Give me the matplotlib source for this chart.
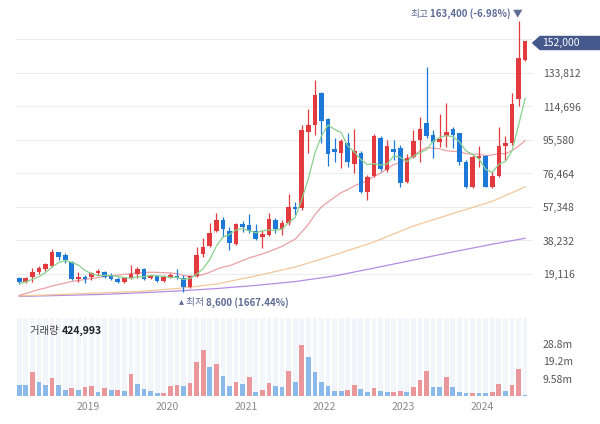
import matplotlib.pyplot as plt
from matplotlib.patches import Polygon
import pandas as pd
import numpy as np

plt.rcParams['font.family'] = ['Noto Sans CJK KR', 'DejaVu Sans']

# monthly candles, Feb 2018 .. Jul 2024
months = pd.period_range('2018-02', periods=78, freq='M')

opens = [16700, 14700, 17400, 20100, 21800, 23700, 31500, 30000, 26100, 16100,
         17600, 17600, 19500, 20400, 18500, 16300, 14400, 16700, 19100, 21800,
         16700, 18100, 15100, 17200, 18000, 17000, 11900, 18000, 30400, 35100,
         43800, 49900, 43800, 36100, 47700, 47100, 43800, 40400, 41200, 49900,
         44800, 48100, 57500, 57000, 100300, 104100, 122400, 107400, 90300, 88300,
         94000, 81700, 88300, 65700, 75300, 96900, 78500, 90300, 91200, 71400,
         86100, 95600, 105100, 98400, 94600, 97900, 101700, 99400, 83200, 68900,
         85100, 86500, 68900, 75200, 92200, 93700, 118800, 141200]
highs = [17600, 17600, 22500, 23700, 25600, 33400, 31800, 30900, 26500, 20400,
         18500, 20400, 22000, 20800, 19500, 17200, 17400, 24300, 22900, 22400,
         18500, 18500, 18500, 19500, 22000, 18500, 18500, 34700, 39800, 48200,
         54100, 51600, 46100, 48200, 49600, 53400, 47500, 44300, 54100, 50900,
         49900, 64600, 60300, 104100, 113000, 129800, 123100, 108100, 96600, 95900,
         99400, 101700, 89500, 75600, 99000, 97900, 95600, 95600, 92700, 87400,
         101300, 108500, 137400, 101300, 110400, 116900, 103200, 99700, 84200, 87000,
         92300, 87000, 78100, 102800, 97900, 122200, 163400, 152200]
lows = [13400, 14200, 14700, 18900, 20800, 23300, 27100, 25200, 15700, 14700,
        13800, 15700, 18500, 16700, 15700, 13800, 14000, 16300, 16700, 15700,
        16100, 14700, 14700, 16700, 16100, 8600, 11100, 17400, 29000, 34500,
        43300, 40400, 32800, 35700, 43300, 42300, 38500, 33800, 40600, 42300,
        41200, 47100, 53000, 55600, 88000, 98400, 93700, 80700, 83200, 79400,
        80000, 76600, 65200, 61300, 74600, 77900, 77500, 84200, 68900, 70900,
        85100, 83200, 96600, 85100, 91800, 91400, 90800, 81300, 68000, 68000,
        80300, 68600, 68000, 74600, 84200, 92700, 115000, 140700]
closes = [14700, 17000, 20400, 22400, 24700, 31500, 29000, 27100, 16100, 17600,
          16100, 19900, 20800, 17600, 16100, 14400, 16700, 18900, 21800, 16300,
          18000, 15300, 17600, 18500, 16700, 11900, 18000, 30000, 34400, 42700,
          49900, 44600, 36600, 47700, 46100, 43800, 39100, 41800, 50300, 44800,
          48100, 57500, 56200, 101300, 104000, 121300, 106600, 87400, 88900, 94900,
          83200, 89300, 65700, 74600, 97900, 78900, 92200, 88900, 70900, 85100,
          94900, 101700, 97900, 94600, 96000, 100300, 98400, 83200, 68900, 86100,
          86600, 68900, 75000, 92200, 94000, 116100, 142500, 152000]

# volume in millions of shares
volume = [6.3, 6.2, 13.1, 7.7, 6.3, 10.1, 6.3, 3.5, 4.2, 3.5,
          4.8, 5.3, 2.4, 4.4, 3.1, 3.5, 2.6, 12.2, 6.8, 3.9,
          2.9, 1.5, 1.6, 5.3, 6.3, 5.3, 7.4, 18.8, 25.4, 16.2,
          17.9, 11.1, 5.3, 7.7, 6.4, 10.7, 2.4, 3.1, 7.2, 5.7,
          4.8, 14.0, 7.7, 28.4, 21.6, 13.4, 7.7, 5.7, 2.9, 2.8,
          3.5, 6.3, 3.9, 2.4, 4.4, 2.9, 2.0, 2.4, 2.9, 2.0,
          4.8, 8.7, 14.0, 4.8, 4.7, 10.7, 4.8, 2.0, 1.5, 1.6,
          1.5, 1.4, 2.4, 6.8, 2.9, 6.3, 15.0, 0.425]
last_volume = 424993

# moving averages
ma5 = [13500, 14700, 16100, 17600, 19840, 23200, 25600, 26940, 25680, 24260,
       21180, 19360, 18100, 18400, 18100, 17760, 17120, 16740, 17580, 17620,
       18340, 18060, 17800, 17140, 17220, 16000, 16540, 19020, 22200, 27400,
       35000, 40320, 41640, 44300, 44980, 43760, 42660, 43700, 44220, 43960,
       44820, 48500, 51380, 61580, 73420, 88060, 97880, 104120, 101640, 99820,
       92200, 88740, 84400, 81540, 82140, 81280, 81860, 86500, 85760, 83200,
       86400, 88300, 90100, 94840, 97020, 98100, 97440, 94500, 89360, 87380,
       84640, 78740, 77100, 81760, 83340, 89240, 103960, 119360]
ma20 = [6850, 7990, 9130, 10270, 11130, 12270, 13120, 13980, 14830, 15400,
        15980, 16550, 17120, 17690, 18090, 18550, 18940, 19290, 19690, 19955,
        20120, 20035, 19895, 19700, 19300, 18320, 17770, 17915, 18830, 20085,
        21775, 23010, 23800, 25305, 26805, 28275, 29395, 30540, 31965, 33390,
        34895, 37005, 38935, 43075, 47440, 52910, 57340, 60210, 62935, 65545,
        67210, 69445, 70900, 72245, 74835, 76590, 79245, 81600, 82630, 84645,
        86985, 89195, 91280, 90945, 90545, 89495, 89085, 88875, 87875, 87435,
        87605, 86585, 87050, 87930, 87735, 89595, 92110, 95265]
ma_idx = [0, 6, 12, 18, 24, 30, 36, 42, 48, 54, 60, 66, 72, 77]
ma60 = [6600, 7400, 8300, 9100, 10800, 13400, 18000, 23100, 30000, 37400, 46500, 53600, 60600, 68800]
ma120 = [6300, 6850, 7400, 8300, 9400, 10800, 12600, 14800, 18000, 22500, 27100, 31700, 36100, 39500]

price_ticks = [19116, 38232, 57348, 76464, 95580, 114696, 133812, 152928]
price_labels = ['19,116', '38,232', '57,348', '76,464', '95,580', '114,696', '133,812', '']
vol_ticks = [9.58, 19.16, 28.74]
vol_labels = ['9.58m', '19.2m', '28.8m']

UP, DOWN = '#e23a3f', '#1e78d8'
VUP, VDOWN = '#ea979b', '#8bbaea'
W, H = 600, 424


def px_box(x0, y0, x1, y1):
    return [x0 / W, 1 - y1 / H, (x1 - x0) / W, (y1 - y0) / H]


fig = plt.figure(figsize=(6, 4.24), dpi=100)
ax = fig.add_axes(px_box(15.6, 0, 533, 310))
axv = fig.add_axes(px_box(15.6, 318, 533, 396))

x = np.arange(len(closes))
o = np.array(opens)
c = np.array(closes)
up = c >= o
cols = np.where(up, UP, DOWN)

# candles
ax.vlines(x, lows, highs, colors=cols, lw=0.9, zorder=3)
body = np.maximum(np.abs(c - o), 350)
ax.bar(x, body, bottom=np.minimum(o, c), width=0.7, color=cols, zorder=4)

# moving averages
ax.plot(ma_idx, ma120, color='#b48de0', lw=0.9, zorder=2)
ax.plot(ma_idx, ma60, color='#f2c79b', lw=0.9, zorder=2)
ax.plot(x, ma20, color='#eba1a5', lw=0.9, zorder=2)
ax.plot(x, ma5, color='#88d18c', lw=0.9, zorder=5)

ax.set_xlim(-0.55, 78.2)
ax.set_ylim(-1426, 175460)
ax.set_yticks(price_ticks)
ax.set_yticklabels(price_labels)
ax.yaxis.tick_right()
ax.tick_params(axis='y', length=0, pad=7, labelsize=7.5, labelcolor='#555555')
ax.set_xticks([])
ax.grid(axis='y', color='#ececec', lw=0.8, zorder=0)
for s in ax.spines.values():
    s.set_visible(False)

# high / low notes
hi = int(np.argmax(highs))
lo = int(np.argmin(lows))
note_col = '#5d6c96'
t1 = ax.annotate(f'{highs[hi]:,} ({(closes[-1] / highs[hi] - 1) * 100:.2f}%) ▼',
                 xy=(hi, highs[hi]), xytext=(3.2, 1.5), textcoords='offset points',
                 ha='right', va='bottom', fontsize=7, color=note_col, weight='bold')
t2 = ax.annotate('▴ 최저 ', xy=(lo, lows[lo]), xytext=(-3, -3), textcoords='offset points',
                 ha='left', va='top', fontsize=7, color=note_col)

# volume panel
vmax = 43.1
axv.bar(x, vmax, width=0.72, color='#f2f5fa', zorder=1)
vol = np.array(volume)
vup = np.r_[False, vol[1:] > vol[:-1]]
axv.bar(x, vol, width=0.72, color=np.where(vup, VUP, VDOWN), zorder=2)
axv.set_xlim(-0.55, 78.2)
axv.set_ylim(0, vmax)
axv.set_yticks(vol_ticks)
axv.set_yticklabels(vol_labels)
axv.yaxis.tick_right()
axv.tick_params(axis='y', length=0, pad=7, labelsize=7.5, labelcolor='#555555')
jan = [i - 0.5 for i, m in enumerate(months) if m.month == 1]
axv.set_xticks(jan)
axv.set_xticklabels([str(months[int(j + 0.5)].year) for j in jan])
axv.tick_params(axis='x', length=0, pad=4, labelsize=7.5, labelcolor='#8a8a8a')
for s in axv.spines.values():
    s.set_visible(False)

t3 = fig.text(30 / W, 1 - 331 / H, '거래량 ', fontsize=7.5, color='#444444',
              ha='left', va='center')

fig.canvas.draw()
r = fig.canvas.get_renderer()
bb1 = t1.get_window_extent(r)
bb2 = t2.get_window_extent(r)
bb3 = t3.get_window_extent(r)
fig.text(bb1.x0 / W - 0.003, bb1.y0 / H, '최고', fontsize=7, color=note_col,
         ha='right', va='bottom')
fig.text(bb2.x1 / W, bb2.y1 / H, f'{lows[lo]:,} ({(closes[-1] / lows[lo] - 1) * 100:.2f}%)',
         fontsize=7, color=note_col, ha='left', va='top', weight='bold')
fig.text(bb3.x1 / W, 1 - 331 / H, f'{last_volume:,}', fontsize=7.5, color='#222222',
         ha='left', va='center', weight='bold')

# current price tag
tag = Polygon([(532.7 / W, 1 - 43 / H), (540 / W, 1 - 36.5 / H), (600 / W, 1 - 36.5 / H),
               (600 / W, 1 - 49.5 / H), (540 / W, 1 - 49.5 / H)],
              closed=True, transform=fig.transFigure, color='#46598c', zorder=10)
fig.patches.append(tag)
fig.text(542 / W, 1 - 43 / H, f'{closes[-1]:,}', color='white', fontsize=7.5,
         ha='left', va='center', zorder=11)

fig.savefig('out.png', dpi=100)
